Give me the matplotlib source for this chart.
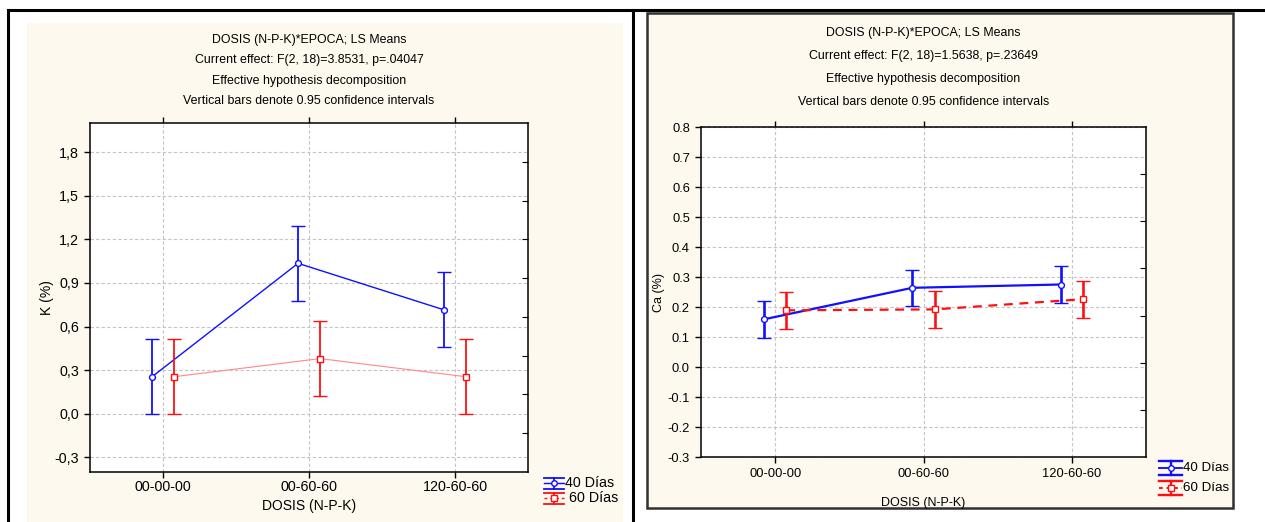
import numpy as np
import matplotlib
matplotlib.use('Agg')
import matplotlib.pyplot as plt
from matplotlib.patches import Rectangle
from matplotlib.lines import Line2D

plt.rcParams['font.family'] = ['Liberation Sans', 'DejaVu Sans']
plt.rcParams['axes.unicode_minus'] = False

## data
doses = ['00-00-00', '00-60-60', '120-60-60']
series = ['40 Días', '60 Días']

k_40 = [0.255, 1.035, 0.715]
k_40_ci = [0.257, 0.257, 0.257]
k_60 = [0.255, 0.38, 0.255]
k_60_ci = [0.257, 0.257, 0.257]
k_ticks = [-0.3, 0.0, 0.3, 0.6, 0.9, 1.2, 1.5, 1.8]
k_ticklabels = ['-0,3', '0,0', '0,3', '0,6', '0,9', '1,2', '1,5', '1,8']
k_title = ['DOSIS (N-P-K)*EPOCA; LS Means',
           'Current effect: F(2, 18)=3.8531, p=.04047',
           'Effective hypothesis decomposition',
           'Vertical bars denote 0.95 confidence intervals']

ca_40 = [0.159, 0.264, 0.275]
ca_40_ci = [0.061, 0.061, 0.061]
ca_60 = [0.189, 0.192, 0.226]
ca_60_ci = [0.061, 0.061, 0.061]
ca_ticks = [-0.3, -0.2, -0.1, 0.0, 0.1, 0.2, 0.3, 0.4, 0.5, 0.6, 0.7, 0.8]
ca_title = ['DOSIS (N-P-K)*EPOCA; LS Means',
            'Current effect: F(2, 18)=1.5638, p=.23649',
            'Effective hypothesis decomposition',
            'Vertical bars denote 0.95 confidence intervals']

W, H = 1265, 522
BLUE = '#1010FF'
RED = '#FF1010'
CREAM = '#FEF9EE'

fig = plt.figure(figsize=(W / 100, H / 100), dpi=100)
fig.patch.set_facecolor('white')


def box(x0, y0, x1, y1):
    # pixel box (top-left origin) -> figure fraction rect
    return [x0 / W, 1 - y1 / H, (x1 - x0) / W, (y1 - y0) / H]


def fline(xs, ys, **kw):
    fig.add_artist(Line2D([x / W for x in xs], [1 - y / H for y in ys],
                          transform=fig.transFigure, **kw))


## table lines around the two panels
fline([8, W], [10, 10], color='black', lw=2.2)
fline([8, 8], [10, H], color='black', lw=2.2)
fline([633, 633], [10, H], color='black', lw=2.2)

## panel backgrounds
fig.add_artist(Rectangle((27 / W, 0), (623 - 27) / W, 1 - 23 / H,
                         transform=fig.transFigure, facecolor=CREAM,
                         edgecolor='none', zorder=0))
fig.add_artist(Rectangle((647 / W, 1 - 508 / H), (1233 - 647) / W, (508 - 13) / H,
                         transform=fig.transFigure, facecolor=CREAM,
                         edgecolor='#303030', lw=1.8, zorder=0))


def legend_entry(x0, x1, yc, half, col, mk, ls, lw, label, fs):
    # statistica style errorbar symbol + label
    xc = (x0 + x1) / 2
    fline([x0, x1], [yc, yc], color=col, ls=ls, lw=lw * 0.8)
    fline([xc, xc], [yc - half, yc + half], color=col, lw=lw)
    fline([x0, x1], [yc - half, yc - half], color=col, lw=lw)
    fline([x0, x1], [yc + half, yc + half], color=col, lw=lw)
    fline([xc], [yc], color=col, marker=mk, ms=4, mfc='white', mec=col,
          ls='none')
    fig.text((x1 + 1) / W, 1 - yc / H, label, va='center', ha='left',
             fontsize=fs)


def panel(rect, m40, c40, m60, c60, yl, ticks, ticklabels, ylabel, title,
          title_y, title_dy, fs, lw, red_style, red_lw, red_col, ntw,
          xlab_pad, ylab_pad, xpad):
    ax = fig.add_axes(box(*rect))
    ax.set_facecolor('white')
    x = np.arange(len(doses))
    for m, c, xo, col, mk, ls, lwl, lc in [
            (m40, c40, -0.075, BLUE, 'o', '-', lw, BLUE),
            (m60, c60, 0.075, RED, 's', red_style, red_lw, red_col)]:
        ax.plot(x + xo, m, color=lc, ls=ls, lw=lwl, zorder=3)
        ax.errorbar(x + xo, m, yerr=c, fmt=mk, color=col, ms=4.2, mfc='white',
                    mec=col, mew=1, ecolor=col, elinewidth=lw + 0.3,
                    capsize=5, capthick=lw + 0.3, zorder=4)
    ax.set_xlim(-0.5, 2.5)
    ax.set_ylim(*yl)
    ax.set_xticks(x)
    ax.set_xticklabels(doses)
    ax.set_yticks(ticks)
    if ticklabels is not None:
        ax.set_yticklabels(ticklabels)
    ax.grid(True, color='#C4C4C4', ls=(0, (3, 2)), lw=0.8)
    ax.set_axisbelow(True)
    ax.tick_params(labelsize=fs, direction='out', length=4, width=1,
                   top=True, pad=4)
    ax.tick_params(axis='x', pad=xpad)
    for s in ax.spines.values():
        s.set_linewidth(1.1)
    ax.set_xlabel('DOSIS (N-P-K)', fontsize=fs - 0.3, labelpad=xlab_pad)
    ax.set_ylabel(ylabel, fontsize=fs - 0.3, labelpad=ylab_pad)
    # extra unlabeled ticks on the right border, as in the original
    tw = ax.twinx()
    tw.set_ylim(0, ntw)
    tw.set_yticks(range(1, ntw))
    tw.tick_params(direction='in', length=4, labelright=False)
    for s in tw.spines.values():
        s.set_visible(False)
    cx = (rect[0] + rect[2]) / 2 / W
    for i, t in enumerate(title):
        fig.text(cx, 1 - (title_y + i * title_dy) / H, t, ha='center',
                 va='center', fontsize=8.9)
    return ax


panel((90, 123, 528, 472), k_40, k_40_ci, k_60, k_60_ci, (-0.4, 2.0),
      k_ticks, k_ticklabels, 'K (%)', k_title, 40, 20.5, 10.3, 1.0, '-', 0.8,
      '#FF8888', 9, 4, 0, 1.5)
legend_entry(544, 564, 483, 5.5, BLUE, 'o', '-', 1.3, series[0], 10.3)
legend_entry(544, 564, 498, 5.5, RED, 's', (0, (2, 2)), 1.3,
             ' ' + series[1], 10.3)

panel((701, 127, 1146, 457), ca_40, ca_40_ci, ca_60, ca_60_ci, (-0.3, 0.8),
      ca_ticks, None, 'Ca (%)', ca_title, 33, 23, 9.3, 1.6, (0, (4, 3)), 1.6,
      RED, 7, 12, 2, 4)
legend_entry(1159, 1182, 468, 7, BLUE, 'o', '-', 1.7, series[0], 9.6)
legend_entry(1159, 1182, 488, 7, RED, 's', (0, (2, 2)), 1.7, series[1], 9.6)

fig.savefig('out.png', dpi=100)
